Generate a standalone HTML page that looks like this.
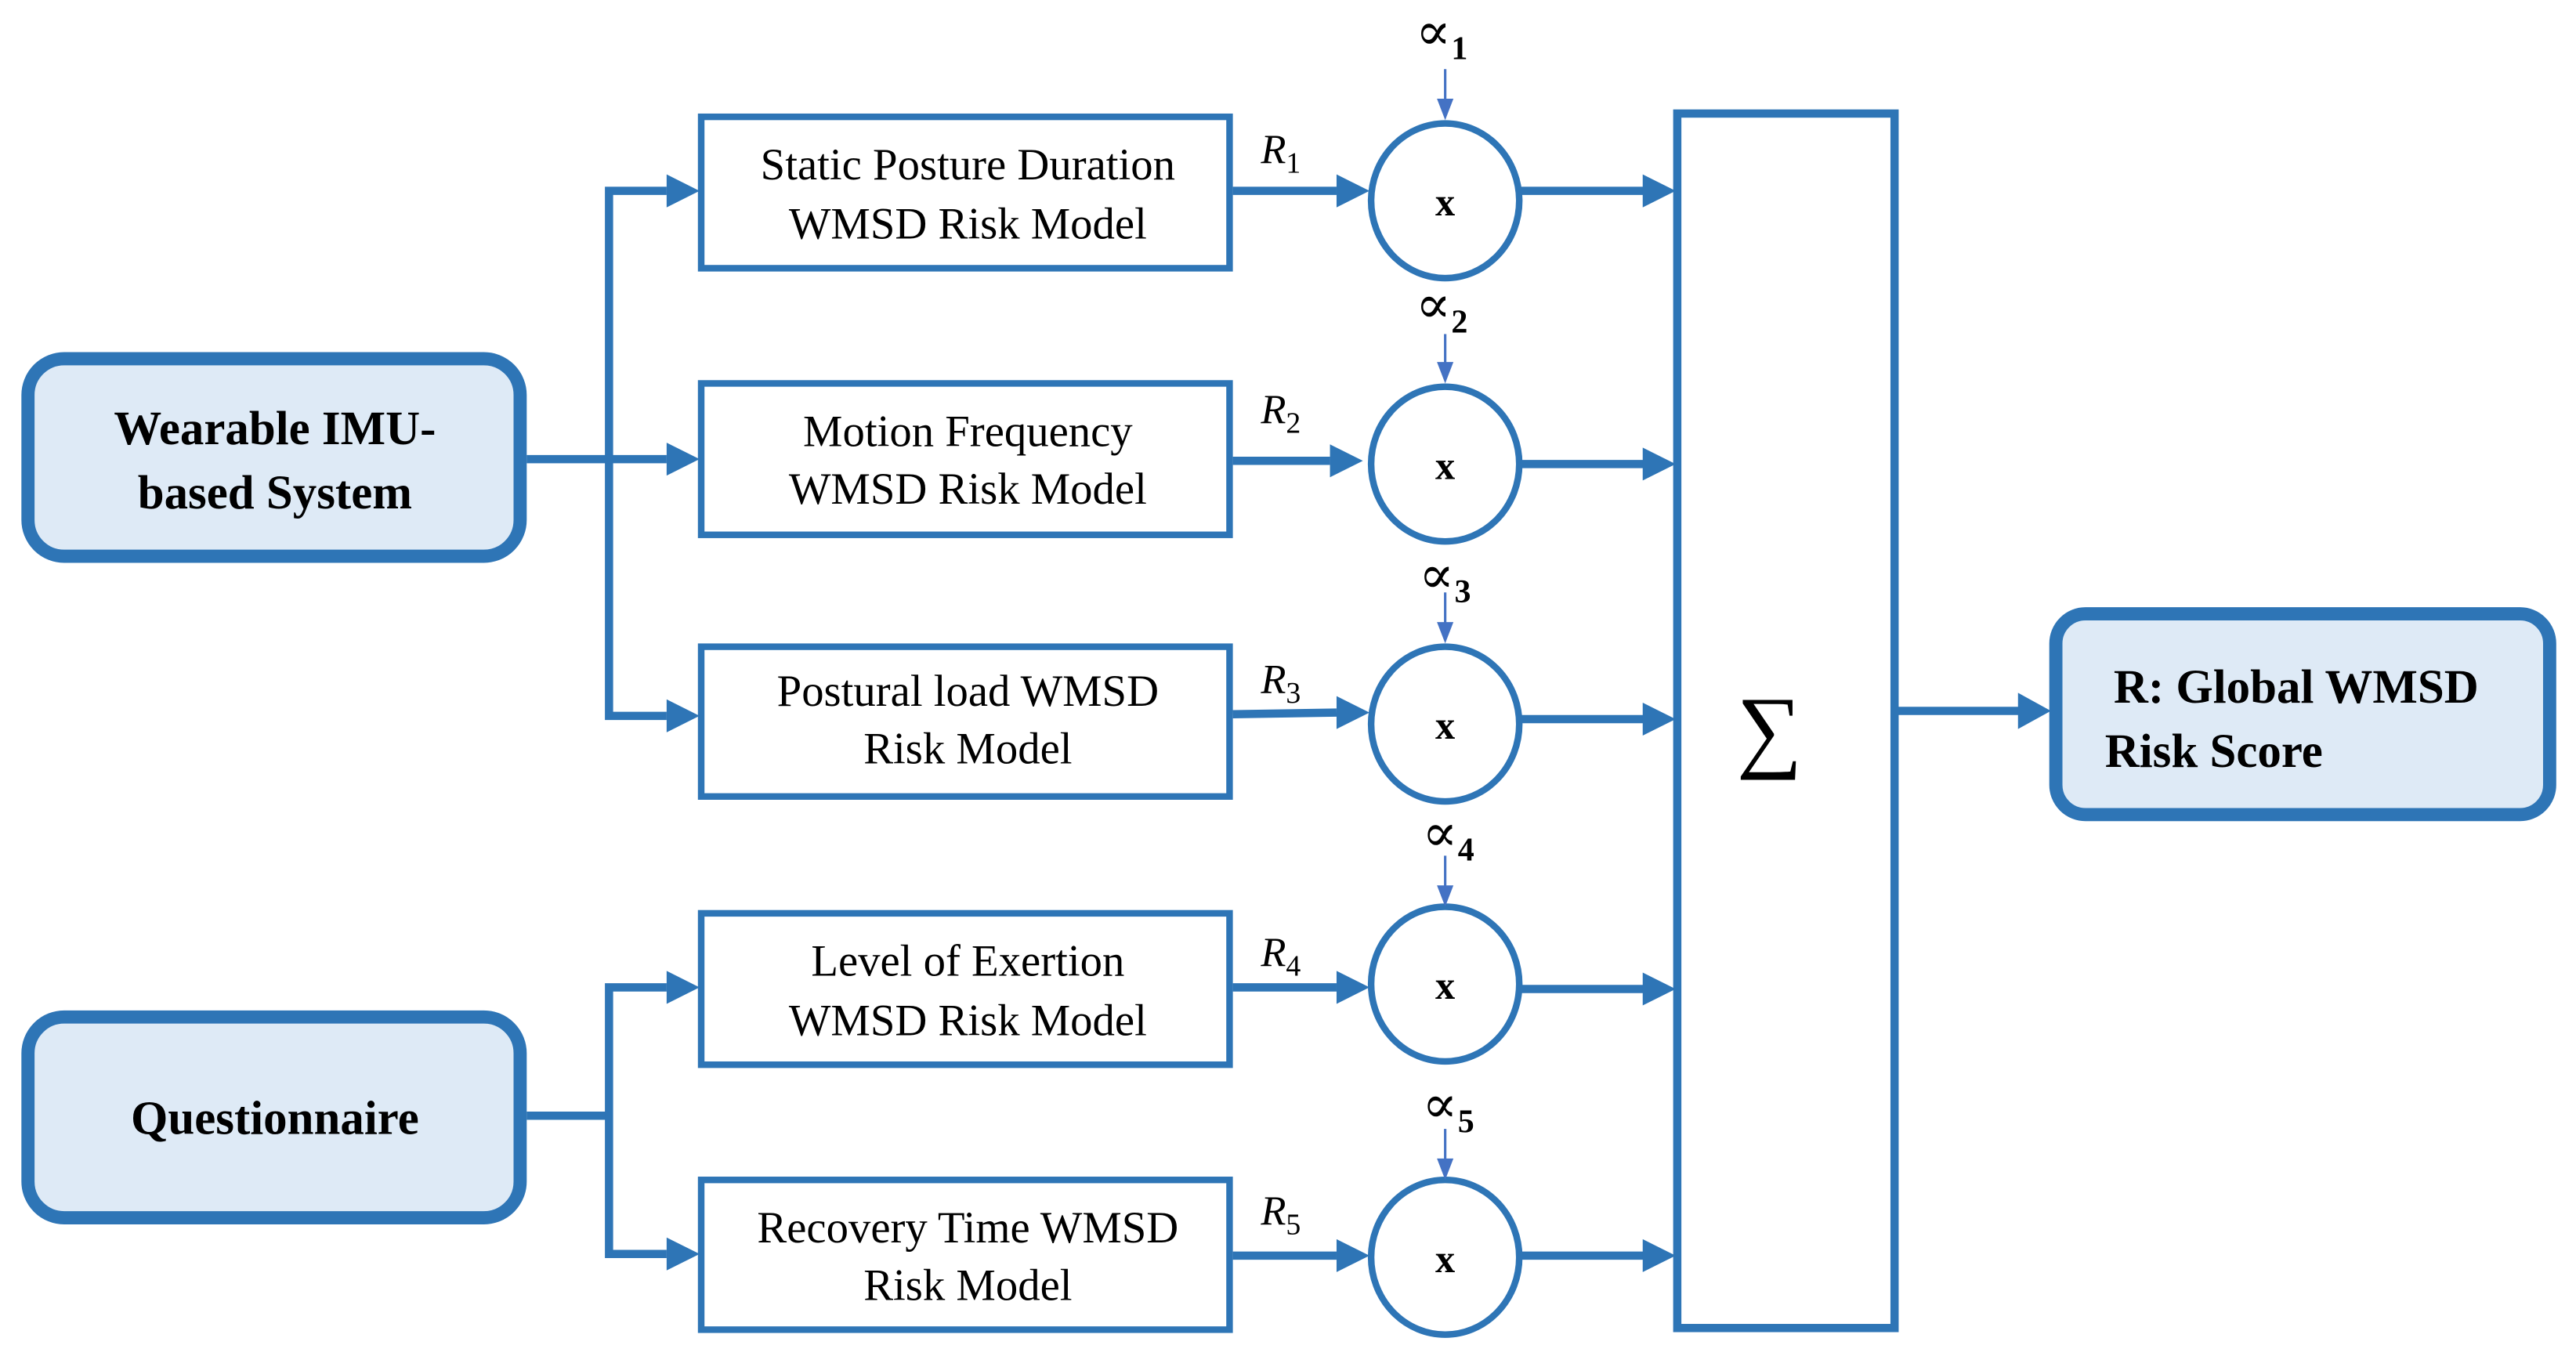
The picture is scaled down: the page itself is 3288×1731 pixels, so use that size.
<!DOCTYPE html>
<html><head><meta charset="utf-8"><style>
html,body{margin:0;padding:0;background:#fff;}
svg{display:block;}
text{font-family:"Liberation Serif","Times New Roman","DejaVu Serif",serif;fill:#000;}
</style></head><body>
<svg width="3288" height="1731" viewBox="0 0 1565 824" preserveAspectRatio="none" xmlns="http://www.w3.org/2000/svg" font-family="Liberation Serif, Times New Roman, DejaVu Serif, serif">
<g fill="none" stroke="#2E75B6">
  <rect x="17" y="218" width="299" height="120" rx="22" fill="#DEEAF6" stroke-width="8"/>
  <rect x="17" y="618" width="299" height="122" rx="22" fill="#DEEAF6" stroke-width="8"/>
  <rect x="1249" y="373" width="300" height="122" rx="18" fill="#DEEAF6" stroke-width="8"/>
  <rect x="426" y="71" width="321" height="92" stroke-width="4"/>
  <rect x="426" y="233" width="321" height="92" stroke-width="4"/>
  <rect x="426" y="393" width="321" height="91" stroke-width="4"/>
  <rect x="426" y="555" width="321" height="92" stroke-width="4"/>
  <rect x="426" y="717" width="321" height="91" stroke-width="4"/>
  <rect x="1019" y="69" width="132" height="738" stroke-width="5"/>
  <ellipse cx="878" cy="122" rx="45" ry="47" stroke-width="4"/>
  <ellipse cx="878" cy="282" rx="45" ry="47" stroke-width="4"/>
  <ellipse cx="878" cy="440" rx="45" ry="47" stroke-width="4"/>
  <ellipse cx="878" cy="598" rx="45" ry="47" stroke-width="4"/>
  <ellipse cx="878" cy="764" rx="45" ry="47" stroke-width="4"/>
  <g stroke-width="5">
    <polyline points="405,116 370,116 370,435 405,435"/>
    <line x1="320" y1="279" x2="405" y2="279"/>
    <line x1="320" y1="678" x2="370" y2="678"/>
    <polyline points="405,600 370,600 370,762 405,762"/>
    <line x1="749" y1="116" x2="812" y2="116"/>
    <line x1="749" y1="280" x2="808" y2="280"/>
    <line x1="749" y1="434" x2="812" y2="433"/>
    <line x1="749" y1="600" x2="812" y2="600"/>
    <line x1="749" y1="763" x2="812" y2="763"/>
    <line x1="924" y1="116" x2="1000" y2="116"/>
    <line x1="924" y1="282" x2="1000" y2="282"/>
    <line x1="924" y1="437" x2="1000" y2="437"/>
    <line x1="924" y1="601" x2="1000" y2="601"/>
    <line x1="924" y1="763" x2="1000" y2="763"/>
    <line x1="1153" y1="432" x2="1228" y2="432"/>
  </g>
  <g stroke="#4472C4" stroke-width="1.5">
    <line x1="878" y1="42" x2="878" y2="62"/>
    <line x1="878" y1="203" x2="878" y2="222"/>
    <line x1="878" y1="360" x2="878" y2="380"/>
    <line x1="878" y1="520" x2="878" y2="540"/>
    <line x1="878" y1="686" x2="878" y2="706"/>
  </g>
</g>
<g fill="#2E75B6">
  <polygon points="405,106 425,116 405,126"/>
  <polygon points="405,269 425,279 405,289"/>
  <polygon points="405,425 425,435 405,445"/>
  <polygon points="405,590 425,600 405,610"/>
  <polygon points="405,752 425,762 405,772"/>
  <polygon points="812,106 832,116 812,126"/>
  <polygon points="808,270 828,280 808,290"/>
  <polygon points="812,423 832,433 812,443"/>
  <polygon points="812,590 832,600 812,610"/>
  <polygon points="812,753 832,763 812,773"/>
  <polygon points="998,106 1018,116 998,126"/>
  <polygon points="998,272 1018,282 998,292"/>
  <polygon points="998,427 1018,437 998,447"/>
  <polygon points="998,591 1018,601 998,611"/>
  <polygon points="998,753 1018,763 998,773"/>
  <polygon points="1226,421 1246,432 1226,443"/>
</g>
<g fill="#4472C4">
  <polygon points="873,60 883,60 878,73"/>
  <polygon points="873,220 883,220 878,233"/>
  <polygon points="873,378 883,378 878,391"/>
  <polygon points="873,538 883,538 878,551"/>
  <polygon points="873,704 883,704 878,717"/>
</g>
<g font-weight="bold" font-size="29" text-anchor="middle">
  <text x="167" y="270">Wearable IMU-</text>
  <text x="167" y="309">based System</text>
  <text x="167" y="689">Questionnaire</text>
  <text x="1395" y="427">R: Global WMSD</text>
  <text x="1345" y="466">Risk Score</text>
</g>
<g font-size="27" text-anchor="middle">
  <text x="588" y="109">Static Posture Duration</text>
  <text x="588" y="145">WMSD Risk Model</text>
  <text x="588" y="271">Motion Frequency</text>
  <text x="588" y="306">WMSD Risk Model</text>
  <text x="588" y="429">Postural load WMSD</text>
  <text x="588" y="464">Risk Model</text>
  <text x="588" y="593">Level of Exertion</text>
  <text x="588" y="629">WMSD Risk Model</text>
  <text x="588" y="755">Recovery Time WMSD</text>
  <text x="588" y="790">Risk Model</text>
</g>
<g font-weight="bold" font-size="24" text-anchor="middle">
  <text x="878" y="131">x</text>
  <text x="878" y="291">x</text>
  <text x="878" y="449">x</text>
  <text x="878" y="607">x</text>
  <text x="878" y="773">x</text>
</g>
<text x="1075" y="462" font-size="56" text-anchor="middle">∑</text>
<g font-size="25" font-style="italic">
  <text x="766" y="99">R<tspan font-style="normal" font-size="18" dy="6">1</tspan></text>
  <text x="766" y="257">R<tspan font-style="normal" font-size="18" dy="6">2</tspan></text>
  <text x="766" y="421">R<tspan font-style="normal" font-size="18" dy="6">3</tspan></text>
  <text x="766" y="587">R<tspan font-style="normal" font-size="18" dy="6">4</tspan></text>
  <text x="766" y="744">R<tspan font-style="normal" font-size="18" dy="6">5</tspan></text>
</g>
<g font-size="32">
  <text x="860" y="30">∝<tspan font-size="20" font-weight="bold" dy="6">1</tspan></text>
  <text x="860" y="196">∝<tspan font-size="20" font-weight="bold" dy="6">2</tspan></text>
  <text x="862" y="360">∝<tspan font-size="20" font-weight="bold" dy="6">3</tspan></text>
  <text x="864" y="517">∝<tspan font-size="20" font-weight="bold" dy="6">4</tspan></text>
  <text x="864" y="682">∝<tspan font-size="20" font-weight="bold" dy="6">5</tspan></text>
</g>
</svg>
</body></html>
